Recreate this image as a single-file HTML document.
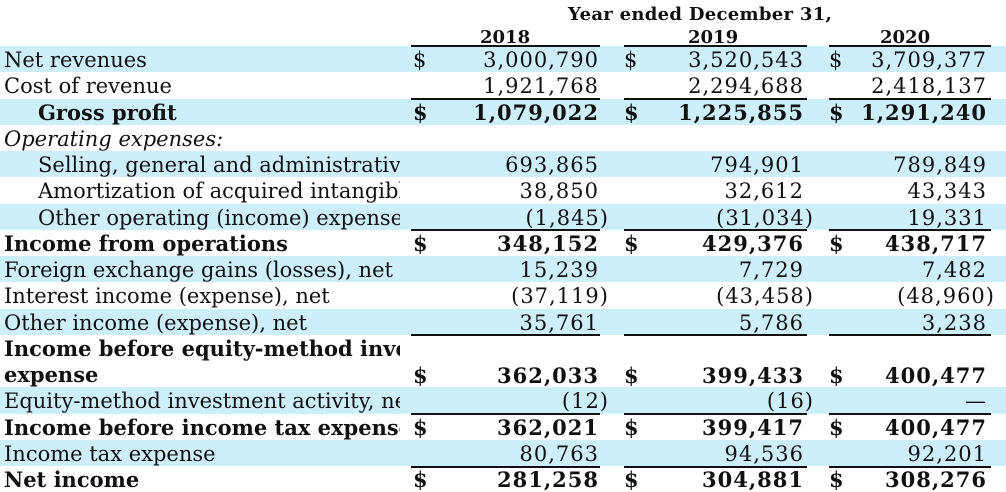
<!DOCTYPE html>
<html><head><meta charset="utf-8">
<style>
html,body{margin:0;padding:0;background:#fff;}
body{width:1006px;height:492px;position:relative;overflow:hidden;font-family:"DejaVu Serif","Liberation Serif",serif;font-size:21px;color:#111;}
.row{position:absolute;left:0;width:1006px;height:26.25px;}
.blue{background:#cdeefb;}
.lab{position:absolute;left:4px;top:2px;width:396px;overflow:hidden;white-space:nowrap;line-height:24px;}
.ind{left:38px;width:362px;}
.b{font-weight:bold;}
.i{font-style:italic;}
.d{position:absolute;top:2px;line-height:24px;}
.v{position:absolute;top:2px;line-height:24px;text-align:right;white-space:nowrap;letter-spacing:1px;}
.c1{right:407px;} .c2{right:202px;} .c3{right:19px;}
.p1{right:397px;} .p2{right:192px;} .p3{right:11px;}
.ln{position:absolute;height:1.5px;background:#111;}
.hdr{position:absolute;font-weight:bold;font-size:18px;}
</style></head><body>
<div class="hdr" style="left:568px;top:4px;letter-spacing:0.3px">Year ended December 31,</div>
<div class="hdr" style="left:480px;top:27px;">2018</div>
<div class="hdr" style="left:688px;top:27px;">2019</div>
<div class="hdr" style="left:880px;top:27px;">2020</div>

<div class="row blue" style="top:46px"><span class="lab">Net revenues</span><span class="d" style="left:413px">$</span><span class="v c1">3,000,790</span><span class="d" style="left:624px">$</span><span class="v c2">3,520,543</span><span class="d" style="left:829px">$</span><span class="v c3">3,709,377</span></div>
<div class="row" style="top:72.25px"><span class="lab">Cost of revenue</span><span class="v c1">1,921,768</span><span class="v c2">2,294,688</span><span class="v c3">2,418,137</span></div>
<div class="row blue b" style="top:98.5px"><span class="lab ind">Gross profit</span><span class="d" style="left:413px">$</span><span class="v c1">1,079,022</span><span class="d" style="left:624px">$</span><span class="v c2">1,225,855</span><span class="d" style="left:829px">$</span><span class="v c3">1,291,240</span></div>
<div class="row" style="top:124.75px"><span class="lab i">Operating expenses:</span></div>
<div class="row blue" style="top:151px"><span class="lab ind">Selling, general and administrative</span><span class="v c1">693,865</span><span class="v c2">794,901</span><span class="v c3">789,849</span></div>
<div class="row" style="top:177.25px"><span class="lab ind">Amortization of acquired intangible assets</span><span class="v c1">38,850</span><span class="v c2">32,612</span><span class="v c3">43,343</span></div>
<div class="row blue" style="top:203.5px"><span class="lab ind">Other operating (income) expense, net</span><span class="v p1">(1,845)</span><span class="v p2">(31,034)</span><span class="v c3">19,331</span></div>
<div class="row b" style="top:229.75px"><span class="lab">Income from operations</span><span class="d" style="left:413px">$</span><span class="v c1">348,152</span><span class="d" style="left:624px">$</span><span class="v c2">429,376</span><span class="d" style="left:829px">$</span><span class="v c3">438,717</span></div>
<div class="row blue" style="top:256px"><span class="lab">Foreign exchange gains (losses), net</span><span class="v c1">15,239</span><span class="v c2">7,729</span><span class="v c3">7,482</span></div>
<div class="row" style="top:282.25px"><span class="lab">Interest income (expense), net</span><span class="v p1">(37,119)</span><span class="v p2">(43,458)</span><span class="v p3">(48,960)</span></div>
<div class="row blue" style="top:308.5px"><span class="lab">Other income (expense), net</span><span class="v c1">35,761</span><span class="v c2">5,786</span><span class="v c3">3,238</span></div>
<div class="row b" style="top:334.75px;height:52.5px"><span class="lab">Income before equity-method investment</span><span class="lab" style="top:28px">expense</span><span class="d" style="left:413px;top:29px">$</span><span class="v c1" style="top:29px">362,033</span><span class="d" style="left:624px;top:29px">$</span><span class="v c2" style="top:29px">399,433</span><span class="d" style="left:829px;top:29px">$</span><span class="v c3" style="top:29px">400,477</span></div>
<div class="row blue" style="top:387.25px"><span class="lab">Equity-method investment activity, net of tax</span><span class="v p1">(12)</span><span class="v p2">(16)</span><span class="v c3">—</span></div>
<div class="row b" style="top:413.5px"><span class="lab">Income before income tax expense</span><span class="d" style="left:413px">$</span><span class="v c1">362,021</span><span class="d" style="left:624px">$</span><span class="v c2">399,417</span><span class="d" style="left:829px">$</span><span class="v c3">400,477</span></div>
<div class="row blue" style="top:439.75px"><span class="lab">Income tax expense</span><span class="v c1">80,763</span><span class="v c2">94,536</span><span class="v c3">92,201</span></div>
<div class="row b" style="top:466px"><span class="lab">Net income</span><span class="d" style="left:413px">$</span><span class="v c1">281,258</span><span class="d" style="left:624px">$</span><span class="v c2">304,881</span><span class="d" style="left:829px">$</span><span class="v c3">308,276</span></div>

<div>
<div class="ln" style="left:411px;width:189px;top:45px"></div><div class="ln" style="left:624px;width:183px;top:45px"></div><div class="ln" style="left:829px;width:162px;top:45px"></div>
<div class="ln" style="left:411px;width:189px;top:98px"></div><div class="ln" style="left:624px;width:183px;top:98px"></div><div class="ln" style="left:829px;width:162px;top:98px"></div>
<div class="ln" style="left:411px;width:189px;top:229px"></div><div class="ln" style="left:624px;width:183px;top:229px"></div><div class="ln" style="left:829px;width:162px;top:229px"></div>
<div class="ln" style="left:411px;width:189px;top:334px"></div><div class="ln" style="left:624px;width:183px;top:334px"></div><div class="ln" style="left:829px;width:162px;top:334px"></div>
<div class="ln" style="left:411px;width:189px;top:413px"></div><div class="ln" style="left:624px;width:183px;top:413px"></div><div class="ln" style="left:829px;width:162px;top:413px"></div>
<div class="ln" style="left:411px;width:189px;top:466px"></div><div class="ln" style="left:624px;width:183px;top:466px"></div><div class="ln" style="left:829px;width:162px;top:466px"></div>
</div>
</body></html>
